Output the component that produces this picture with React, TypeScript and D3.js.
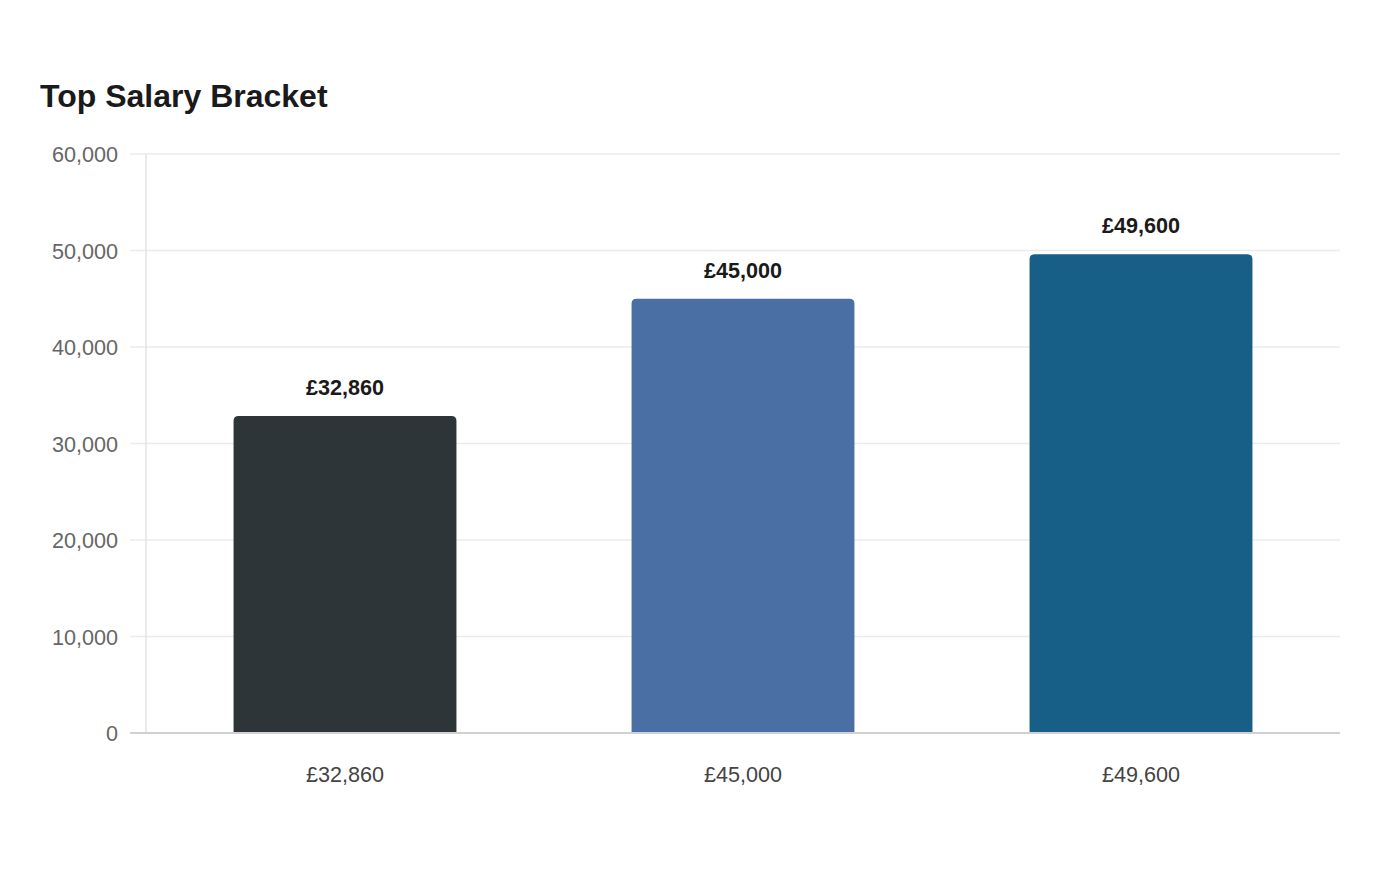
import { scaleLinear, scaleBand, format } from "d3";

const categories = ["£32,860", "£45,000", "£49,600"];
const values = [32860, 45000, 49600];
const barColors = ["#2e3538", "#4a6fa5", "#185f88"];
const yTicks = [0, 10000, 20000, 30000, 40000, 50000, 60000];

const W = 1400, H = 880;
const M = { top: 154, right: 60, bottom: 147, left: 146 };
const FONT = "'Liberation Sans', Arial, Helvetica, sans-serif";

function topRoundedBar(x: number, y: number, w: number, h: number, r: number) {
  const rr = Math.min(r, h / 2, w / 2);
  return `M${x},${y + h}V${y + rr}Q${x},${y} ${x + rr},${y}H${x + w - rr}Q${x + w},${y} ${x + w},${y + rr}V${y + h}Z`;
}

export default function App() {
  const bW = W - M.left - M.right, bH = H - M.top - M.bottom;
  const x = scaleBand().domain(categories).range([0, bW]).paddingInner(0.44).paddingOuter(0.22);
  const y = scaleLinear().domain([0, 60000]).range([bH, 0]);
  const fmt = format(",");
  return (
    <svg width={W} height={H} style={{ position: "absolute", left: 0, top: 0, background: "#fff" }} fontFamily={FONT}>
      <text x={40} y={107} fontSize={32} fontWeight="bold" fill="#1a1a1a">Top Salary Bracket</text>
      <g transform={`translate(${M.left},${M.top})`}>
        {yTicks.map(t => (
          <g key={t} transform={`translate(0,${y(t)})`}>
            {t !== 0 && <line x1={-16} x2={bW} stroke="#ebebeb" strokeWidth={1.5} />}
            <text x={-28} y={8} textAnchor="end" fontSize={21.6} fill="#666">{fmt(t)}</text>
          </g>
        ))}
        <line x1={0} x2={0} y1={0} y2={bH} stroke="#e3e3e3" strokeWidth={1.5} />
        {categories.map((c, i) => {
          const bx = x(c) ?? 0, by = y(values[i]);
          return (
            <g key={c}>
              <path d={topRoundedBar(bx, by, x.bandwidth(), bH - by, 5)} fill={barColors[i]} />
              <text x={bx + x.bandwidth() / 2} y={by - 21} textAnchor="middle" fontSize={21.6} fontWeight="bold" fill="#1a1a1a">{c}</text>
              <text x={bx + x.bandwidth() / 2} y={bH + 49} textAnchor="middle" fontSize={21.6} fill="#444">{c}</text>
            </g>
          );
        })}
        <line x1={-16} x2={bW} y1={bH} y2={bH} stroke="#d0d0d0" strokeWidth={2} />
      </g>
    </svg>
  );
}
